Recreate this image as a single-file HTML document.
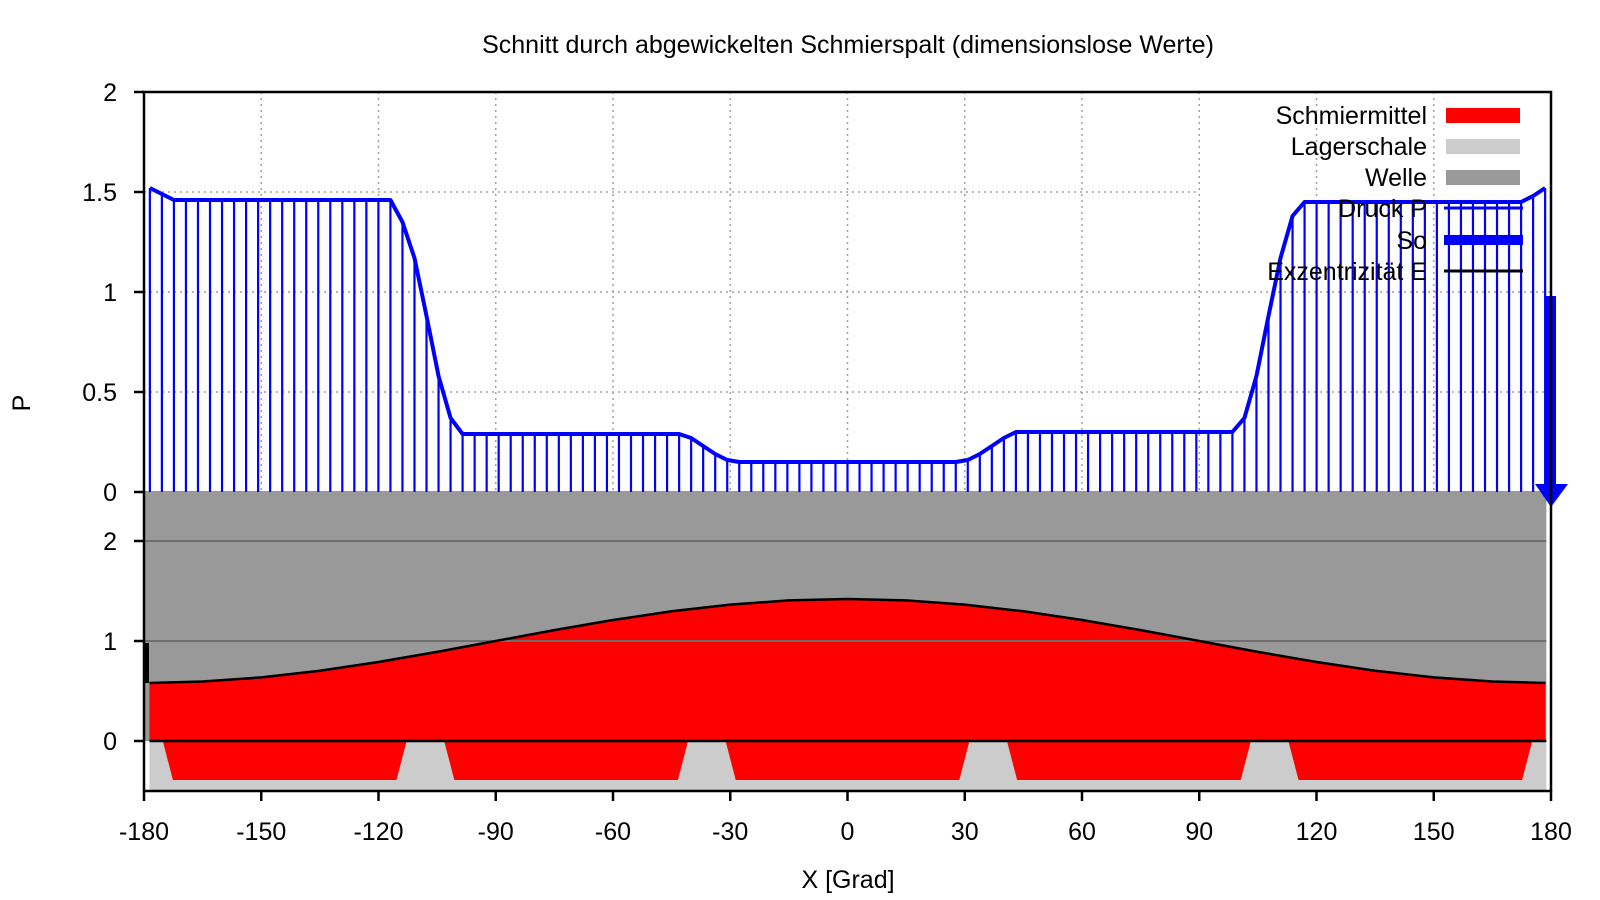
<!DOCTYPE html>
<html><head><meta charset="utf-8"><title>Schmierspalt</title>
<style>html,body{margin:0;padding:0;background:#fff}svg{display:block;font-family:"Liberation Sans",Arial,sans-serif}</style>
</head><body>
<svg id="chart" width="1600" height="900" viewBox="0 0 1600 900" xmlns="http://www.w3.org/2000/svg">
<rect x="0" y="0" width="1600" height="900" fill="#fff"/>
<g id="grid"></g>
<g id="lower"></g>
<g id="upper"></g>
<g id="axes"></g>
<text x="848" y="53" font-size="25" text-anchor="middle">Schnitt durch abgewickelten Schmierspalt (dimensionslose Werte)</text>
<text x="848" y="888" font-size="25" text-anchor="middle">X [Grad]</text>
<text x="0" y="0" font-size="25" text-anchor="middle" transform="translate(30,403) rotate(-90)">P</text>
<g id="legend"></g>
</svg>
<script>
// ---- data ----
const xTicks = [-180,-150,-120,-90,-60,-30,0,30,60,90,120,150,180];
const pTicks = [0,0.5,1,1.5,2];
const hTicks = [0,1,2];
const xStart = -178.5, xEnd = 178.5;
const pressure = [1.52,1.49,
 1.46,1.46,1.46,1.46,1.46,1.46,1.46,1.46,1.46,1.46,1.46,1.46,1.46,1.46,1.46,1.46,1.46,1.46,1.46,
 1.35,1.17,0.88,0.58,0.37,
 0.29,0.29,0.29,0.29,0.29,0.29,0.29,0.29,0.29,0.29,0.29,0.29,0.29,0.29,0.29,0.29,0.29,0.29,0.29,
 0.27,0.23,0.19,0.16,
 0.15,0.15,0.15,0.15,0.15,0.15,0.15,0.15,0.15,0.15,0.15,0.15,0.15,0.15,0.15,0.15,0.15,0.15,0.15,
 0.16,0.19,0.23,0.27,
 0.30,0.30,0.30,0.30,0.30,0.30,0.30,0.30,0.30,0.30,0.30,0.30,0.30,0.30,0.30,0.30,0.30,0.30,0.30,
 0.37,0.58,0.88,1.17,1.38,
 1.45,1.45,1.45,1.45,1.45,1.45,1.45,1.45,1.45,1.45,1.45,1.45,1.45,1.45,1.45,1.45,1.45,1.45,1.45,
 1.48,1.52];
const gapX = [-178.6,-165,-150,-135,-120,-105,-90,-75,-60,-45,-30,-15,0,15,30,45,60,75,90,105,120,135,150,165,178.6];
const gapH = [0.58,0.595,0.636,0.703,0.79,0.891,1.0,1.109,1.21,1.297,1.364,1.406,1.42,1.406,1.364,1.297,1.21,1.109,1.0,0.891,0.79,0.703,0.636,0.595,0.58];
const pocketCenters = [-144,-72,0,72,144];
const pocketTopHalf = 31.2, pocketBottomHalf = 28.6, pocketDepth = 0.39;
const soValue = 0.98;       // So arrow length in P units
const eccTop = 0.98, eccBottom = 0.58;

// ---- axes functions ----
const X0=144, X1=1551;
const sx = d => X0 + (d+180)*(X1-X0)/360;
const syP = v => 492 - v*200;
const syH = v => 741 - v*100;
const NS="http://www.w3.org/2000/svg";
function mk(parent, tag, attrs){const e=document.createElementNS(NS,tag);for(const k in attrs)e.setAttribute(k,attrs[k]);document.getElementById(parent).appendChild(e);return e;}

// grid
for(const t of xTicks){ if(t===-180||t===180) continue;
 const g=mk('grid','line',{x1:sx(t),x2:sx(t),y1:92,y2:492,stroke:'#a0a0a0','stroke-width':1.5,'stroke-dasharray':'2,4'});
 
 
}
for(const t of pTicks){ if(t===0||t===2) continue;
 const g=mk('grid','line',{x1:X0,x2:t===1.5?1200:X1,y1:syP(t),y2:syP(t),stroke:'#a0a0a0','stroke-width':1.5,'stroke-dasharray':'2,4'});
 
 
}

// lower panel
const xL=sx(-178.6), xR=sx(178.8);
let w=mk('lower','rect',{x:X0,y:syH(2.5),width:xR-X0,height:syH(0)-syH(2.5),fill:'#999999'});


let ls=mk('lower','rect',{x:xL,y:syH(0),width:xR-xL,height:syH(-0.5)-syH(0),fill:'#cccccc'});


let ptsG = gapX.map((x,i)=>sx(x)+','+syH(gapH[i])).join(' ');
let red=mk('lower','polygon',{points:sx(gapX[0])+','+syH(0)+' '+ptsG+' '+sx(gapX[gapX.length-1])+','+syH(0),fill:'#ff0000'});


for(const c of pocketCenters){
 const p=mk('lower','polygon',{points:[sx(c-pocketTopHalf)+','+syH(0),sx(c+pocketTopHalf)+','+syH(0),sx(c+pocketBottomHalf)+','+syH(-pocketDepth),sx(c-pocketBottomHalf)+','+syH(-pocketDepth)].join(' '),fill:'#ff0000'});
 
 
}
for(const t of [1,2]){
 const l=mk('lower','line',{x1:X0,x2:xR,y1:syH(t),y2:syH(t),stroke:'#6e6e6e','stroke-width':2});
 
 
}
let bl=mk('lower','polyline',{points:ptsG,fill:'none',stroke:'#000','stroke-width':2.5});


let zl=mk('lower','line',{x1:xL,x2:xR,y1:syH(0),y2:syH(0),stroke:'#000','stroke-width':2.5});


let ecc=mk('lower','line',{x1:X0+2.5,x2:X0+2.5,y1:syH(eccTop),y2:syH(eccBottom),stroke:'#000','stroke-width':5});



// upper panel: impulses + line
const N=pressure.length;
const px = i => xStart + i*(xEnd-xStart)/(N-1);
for(let i=0;i<N;i++){
 const l=mk('upper','line',{x1:sx(px(i)),x2:sx(px(i)),y1:syP(0),y2:syP(pressure[i]),stroke:'#0000ff','stroke-width':2.2});
 
 
}
let pl=mk('upper','polyline',{points:pressure.map((v,i)=>sx(px(i))+','+syP(v)).join(' '),fill:'none',stroke:'#0000ff','stroke-width':4,'stroke-linejoin':'round'});


// So arrow
const ax=X1, ay0=syP(soValue), tip=507;
let sh=mk('upper','rect',{x:ax-5,y:ay0,width:10,height:tip-23-ay0,fill:'#0000ff'});


let hd=mk('upper','polygon',{points:(ax-16)+','+(tip-23)+' '+(ax+17)+','+(tip-23)+' '+ax+','+tip,fill:'#0000ff'});



// axes
let fr=mk('axes','rect',{x:X0,y:92,width:X1-X0,height:791-92,fill:'none',stroke:'#000','stroke-width':2.5});


for(const t of xTicks){
 const l=mk('axes','line',{x1:sx(t),x2:sx(t),y1:791,y2:801,stroke:'#000','stroke-width':2.5});
 
 
 const tx=mk('axes','text',{x:sx(t),y:840,'font-size':25,'text-anchor':'middle'});
 tx.textContent=String(t);
 
 
}
for(const t of pTicks){
 const l=mk('axes','line',{x1:X0-10,x2:X0,y1:syP(t),y2:syP(t),stroke:'#000','stroke-width':2.5});
 
 
 const tx=mk('axes','text',{x:117,y:syP(t)+9,'font-size':25,'text-anchor':'end'});
 tx.textContent=String(t);
 
 
}
for(const t of hTicks){
 const l=mk('axes','line',{x1:X0-10,x2:X0,y1:syH(t),y2:syH(t),stroke:'#000','stroke-width':2.5});
 
 
 const tx=mk('axes','text',{x:117,y:syH(t)+9,'font-size':25,'text-anchor':'end'});
 tx.textContent=String(t);
 
 
}

// legend
const legNames=['Schmiermittel','Lagerschale','Welle','Druck P','So','Exzentrizität E'];
const legY=[115,146,177,208,240,271];
const kinds=[['rect','#ff0000'],['rect','#cccccc'],['rect','#999999'],['line','#0000ff',3],['line','#0000ff',10],['line','#000000',3]];
for(let i=0;i<legNames.length;i++){
 const t=mk('legend','text',{x:1427,y:legY[i]+9,'font-size':25,'text-anchor':'end'});
 t.textContent=legNames[i];
 
 
 const k=kinds[i];
 let s;
 if(k[0]==='rect') s=mk('legend','rect',{x:1446,y:legY[i]-7,width:74,height:15,fill:k[1]});
 else s=mk('legend','line',{x1:1444,x2:1523,y1:legY[i],y2:legY[i],stroke:k[1],'stroke-width':k[2]});
 
 
}
</script>
</body></html>
